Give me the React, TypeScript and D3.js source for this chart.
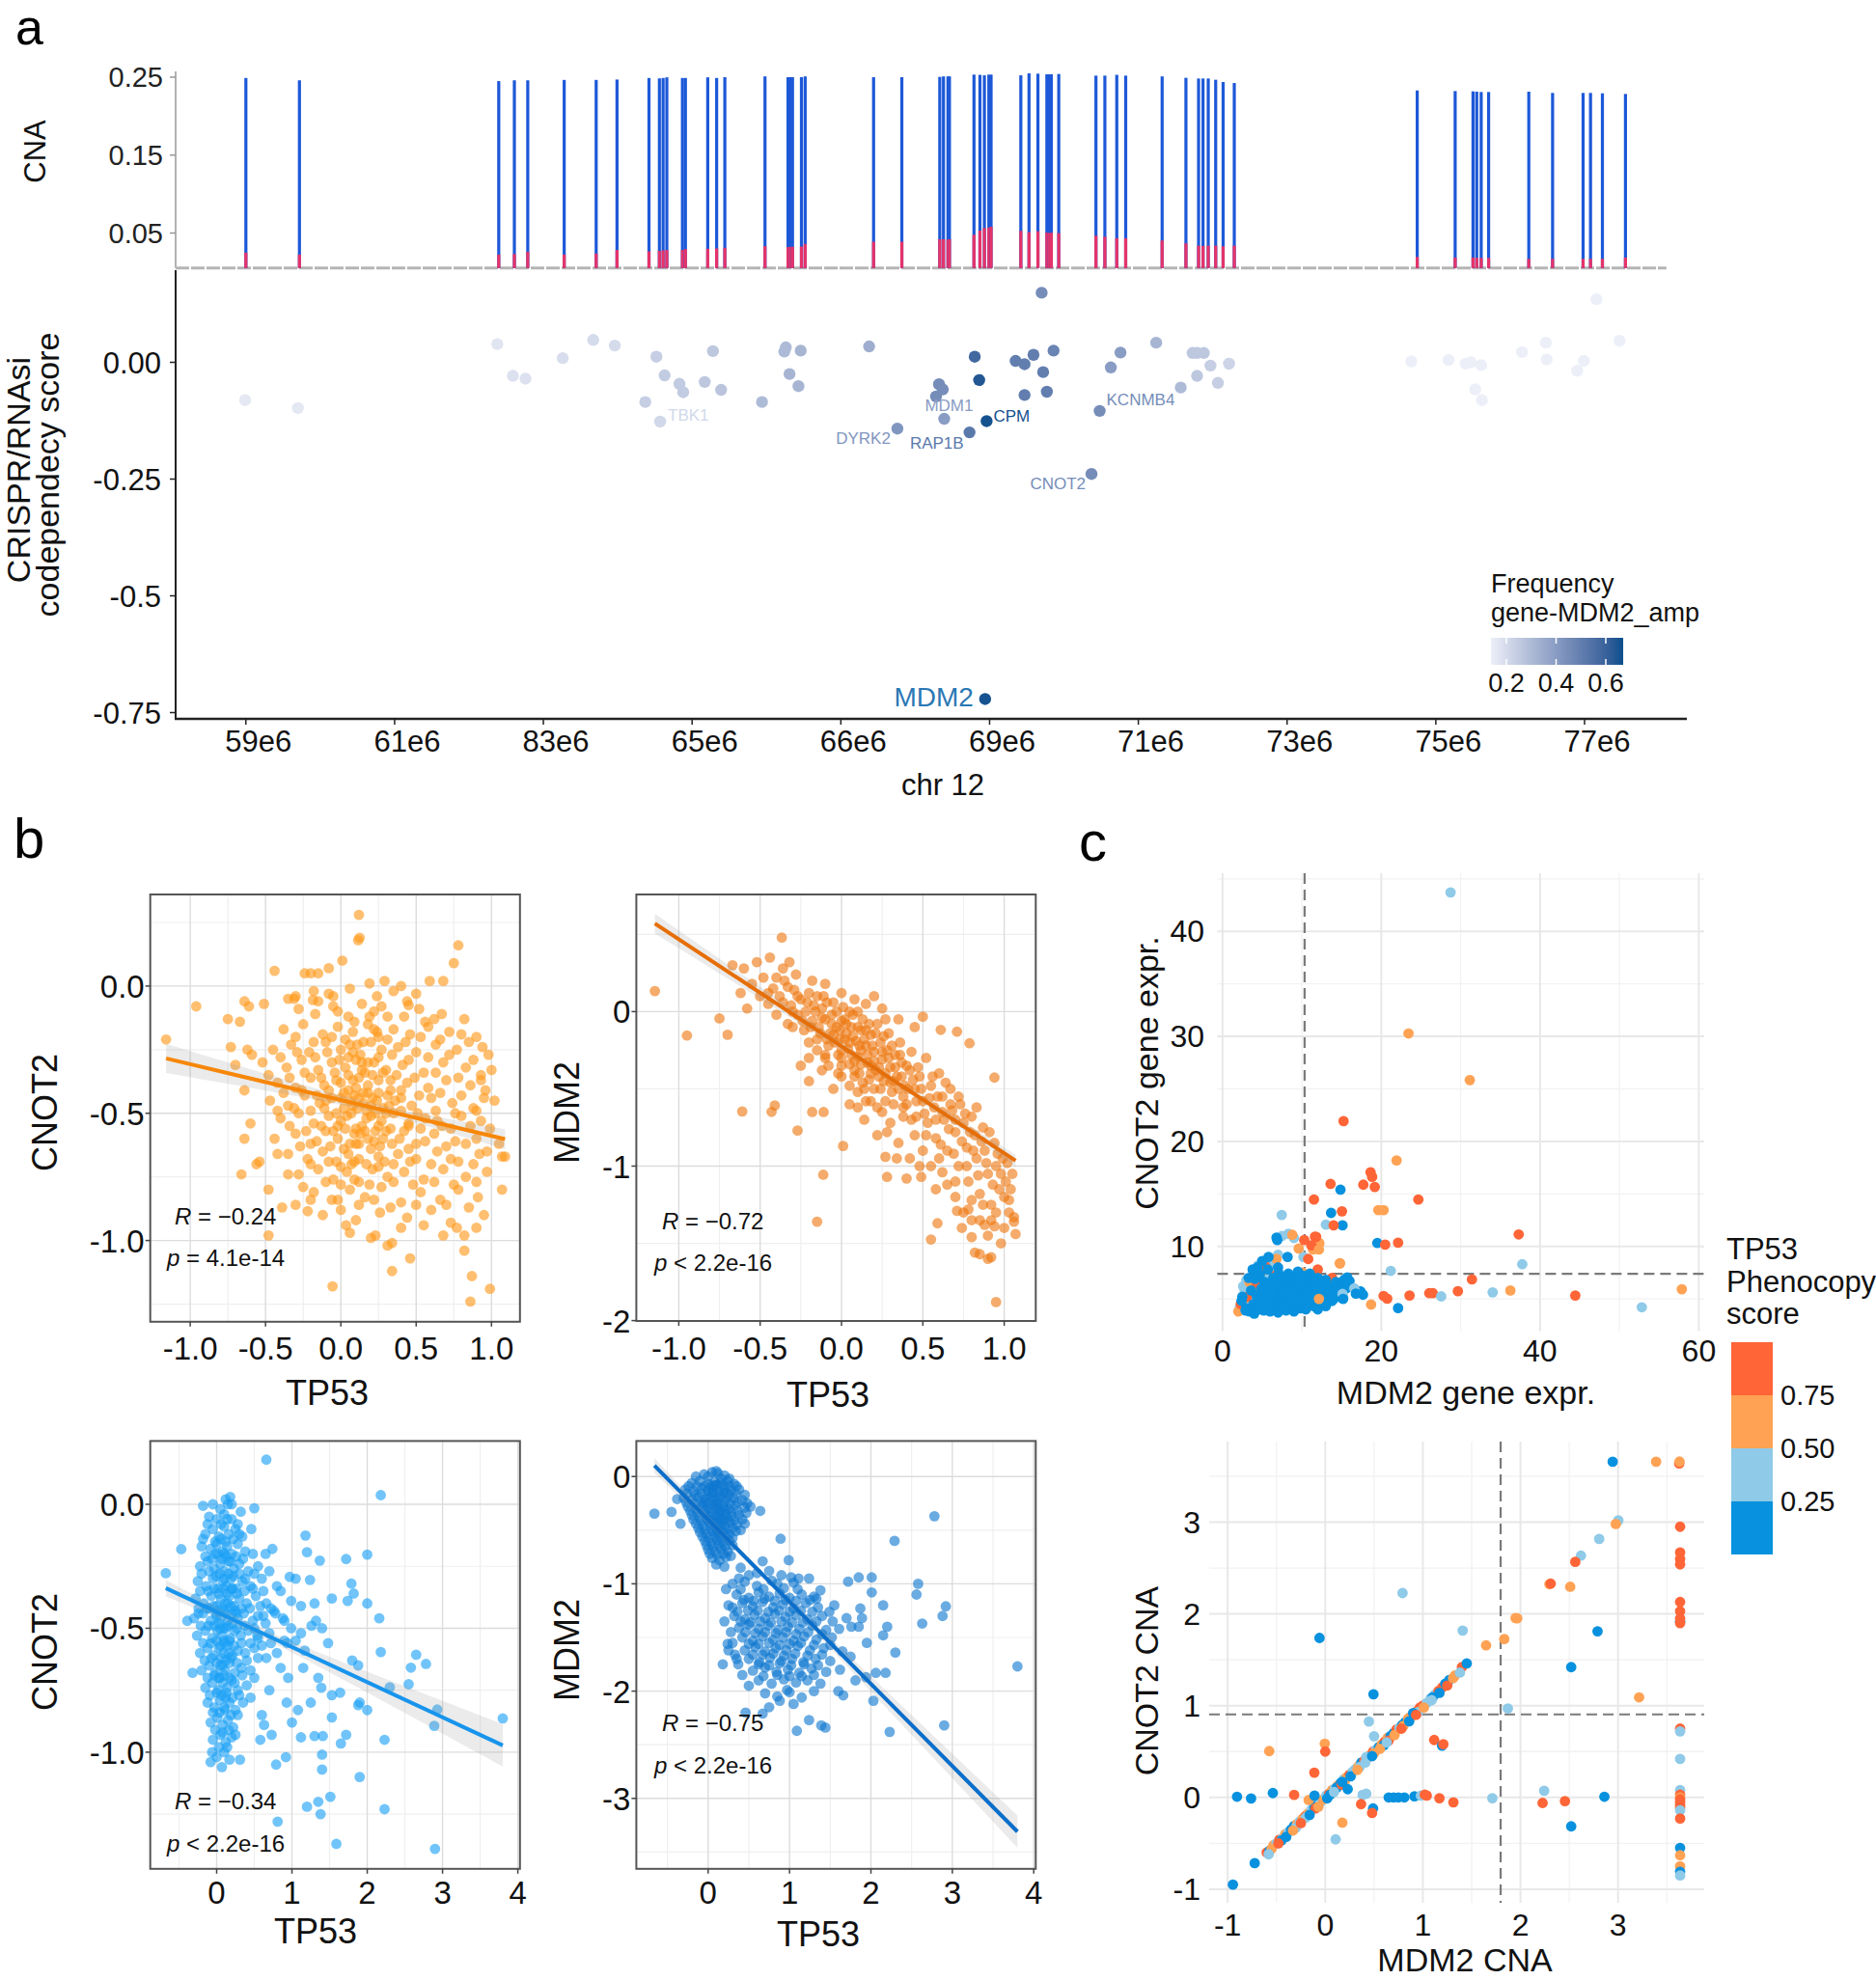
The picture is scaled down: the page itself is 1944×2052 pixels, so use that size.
import React from 'react';
import * as d3 from 'd3';

const FONT = '"Liberation Sans", Arial, Helvetica, sans-serif';

// ================= PANEL a DATA =================
const chrTickMb = [59, 61, 63, 65, 67, 69, 71, 73, 75, 77];
const chrTickLabels = ['59e6', '61e6', '83e6', '65e6', '66e6', '69e6', '71e6', '73e6', '75e6', '77e6'];
const cnaTicks = [0.05, 0.15, 0.25];
const cnaTickLabels = ['0.05', '0.15', '0.25'];
const cnaBaseline = 0.005;
const cnaBarPos = [59.00, 59.72, 62.40, 62.61, 62.79, 63.28, 63.71, 63.99, 64.42, 64.56, 64.61, 64.66, 64.87, 64.91, 65.21, 65.33, 65.44, 65.98, 66.29, 66.32, 66.35, 66.47, 66.52, 67.44, 67.82, 68.33, 68.38, 68.44, 68.46, 68.79, 68.87, 68.93, 68.99, 69.02, 69.42, 69.53, 69.65, 69.77, 69.80, 69.83, 69.93, 70.43, 70.55, 70.71, 70.83, 71.32, 71.64, 71.81, 71.87, 71.94, 72.04, 72.14, 72.29, 74.75, 75.26, 75.50, 75.55, 75.61, 75.71, 76.25, 76.57, 76.98, 77.08, 77.24, 77.55];
const cnaBarTotal = [0.249, 0.246, 0.245, 0.246, 0.246, 0.2465, 0.2465, 0.247, 0.249, 0.2485, 0.249, 0.2498, 0.249, 0.249, 0.2498, 0.249, 0.250, 0.251, 0.250, 0.250, 0.250, 0.250, 0.251, 0.250, 0.250, 0.2504, 0.251, 0.251, 0.251, 0.2533, 0.253, 0.2524, 0.2533, 0.2533, 0.2524, 0.2549, 0.2545, 0.2537, 0.2537, 0.2537, 0.2541, 0.252, 0.252, 0.253, 0.252, 0.251, 0.2492, 0.2483, 0.2483, 0.2483, 0.2467, 0.2438, 0.2425, 0.233, 0.2322, 0.2318, 0.2314, 0.231, 0.231, 0.2314, 0.2298, 0.2298, 0.2298, 0.2293, 0.2285];
const cnaBarAmp = [0.0248, 0.0223, 0.0223, 0.0231, 0.026, 0.0223, 0.0236, 0.0282, 0.0265, 0.027, 0.0277, 0.0282, 0.0282, 0.0294, 0.0298, 0.0302, 0.031, 0.0331, 0.0319, 0.0323, 0.0323, 0.0327, 0.036, 0.0389, 0.0389, 0.042, 0.042, 0.0416, 0.042, 0.0478, 0.0531, 0.0565, 0.0569, 0.0581, 0.0527, 0.0511, 0.0523, 0.0507, 0.0503, 0.0503, 0.0499, 0.0466, 0.0453, 0.0433, 0.0433, 0.0404, 0.0367, 0.0338, 0.0334, 0.0338, 0.0338, 0.033, 0.0338, 0.0193, 0.0185, 0.0185, 0.0181, 0.0181, 0.0181, 0.0168, 0.0168, 0.0168, 0.0168, 0.0168, 0.0185];

const codepTicks = [0, -0.25, -0.5, -0.75];
const codepTickLabels = ['0.00', '-0.25', '-0.5', '-0.75'];
const codepPos = [58.99, 59.70, 62.38, 62.59, 62.76, 63.26, 63.67, 63.96, 64.37, 64.52, 64.57, 64.63, 64.83, 64.88, 65.17, 65.28, 65.39, 65.94, 66.24, 66.26, 66.31, 66.43, 66.46, 67.38, 67.76, 68.28, 68.32, 68.37, 68.39, 68.73, 68.80, 68.86, 68.96, 68.94, 69.35, 69.47, 69.47, 69.59, 69.70, 69.72, 69.77, 69.86, 70.37, 70.48, 70.63, 70.76, 71.24, 71.57, 71.73, 71.79, 71.88, 71.79, 71.97, 72.07, 72.22, 74.67, 75.17, 75.40, 75.47, 75.61, 75.53, 75.62, 76.16, 76.48, 76.49, 76.90, 76.99, 77.16, 77.47];
const codepScore = [-0.081, -0.098, 0.039, -0.029, -0.035, 0.009, 0.048, 0.036, -0.085, 0.012, -0.127, -0.028, -0.046, -0.064, -0.042, 0.024, -0.059, -0.085, 0.023, 0.032, -0.025, -0.051, 0.025, 0.034, -0.142, -0.073, -0.047, -0.058, -0.121, -0.150, 0.012, -0.038, -0.126, -0.721, 0.003, -0.004, -0.070, 0.016, 0.149, -0.021, -0.063, 0.025, -0.239, -0.104, -0.011, 0.021, 0.042, -0.054, 0.020, 0.020, 0.020, -0.029, -0.007, -0.044, -0.003, 0.002, 0.005, -0.003, 0.000, -0.006, -0.058, -0.081, 0.022, 0.042, 0.006, -0.018, 0.003, 0.135, 0.046];
const codepFreq = [0.16, 0.16, 0.17, 0.18, 0.18, 0.19, 0.2, 0.2, 0.24, 0.24, 0.21, 0.25, 0.25, 0.25, 0.26, 0.26, 0.27, 0.3, 0.3, 0.3, 0.32, 0.32, 0.32, 0.34, 0.42, 0.45, 0.45, 0.45, 0.4, 0.52, 0.58, 0.64, 0.66, 0.66, 0.5, 0.5, 0.5, 0.5, 0.45, 0.5, 0.5, 0.48, 0.45, 0.45, 0.4, 0.4, 0.32, 0.3, 0.26, 0.26, 0.26, 0.26, 0.24, 0.24, 0.22, 0.13, 0.13, 0.13, 0.13, 0.13, 0.13, 0.13, 0.13, 0.13, 0.13, 0.13, 0.13, 0.13, 0.13];
const codepLabelGene = ['TBK1', 'DYRK2', 'MDM1', 'RAP1B', 'CPM', 'MDM2', 'CNOT2', 'KCNMB4'];
const codepLabelIdx = [10, 24, 28, 29, 32, 33, 42, 43];
const freqLegendTicks = [0.2, 0.4, 0.6];
const freqDomain = [0.138, 0.67];

// ================= PANEL b DATA =================
const bCellLines = 1000;
const b1Pts = [[0.12,0.28],[0.115,0.18],[0.125,0.19],[0.78,0.16],[0.75,0.09],[0.01,0.10],[-0.08,0.07],[-0.44,0.06],[-0.24,0.05],[-0.2,0.05],[-0.15,0.05],[0.59,0.02],[0.68,0.02],[0.29,0.02],[0.19,0.01],[-0.96,-0.08],[-1.16,-0.21],[-0.75,-0.13],[-0.67,-0.14],[-0.64,-0.06],[-0.61,-0.08],[-0.51,-0.07],[-0.73,-0.24],[-0.70,-0.31],[-0.59,-0.27],[-0.64,-0.41],[-0.60,-0.54],[-0.64,-0.60],[-0.66,-0.74],[-0.56,-0.70],[-0.48,-0.80],[-0.39,-0.87],[-0.48,-0.98],[-0.055,-1.18],[0.23,-0.98],[0.34,-1.01],[0.34,-1.12],[0.46,-1.07],[0.82,-1.04],[0.82,-0.98],[0.87,-1.14],[0.86,-1.24],[0.99,-1.19],[1.07,-0.80],[1.07,-0.67],[1.09,-0.67],[0.98,-0.27],[0.82,-0.13],[0.85,-0.22],[0.62,-0.13],[0.44,-0.06],[0.40,0.0],[-0.30,-0.04],[-0.31,-0.05],[-0.185,-0.055],[-0.08,-0.03],[-0.22,-0.885],[-0.2,-0.84],[0.035,-0.94],[0.2,-0.99],[0.93,-0.37],[0.45,-0.075],[0.77,-0.95],[-0.62,-0.25],[0.31,-1.02],[-0.54,-0.69],
[-0.28,-0.09],[-0.17,-0.11],[-0.05,-0.08],[0.05,-0.12],[0.14,-0.07],[0.22,-0.1],[0.31,-0.12],[0.52,-0.09],[0.67,-0.11],
[-0.38,-0.17],[-0.25,-0.15],[-0.12,-0.19],[-0.02,-0.16],[0.08,-0.18],[0.18,-0.15],[0.25,-0.2],[0.35,-0.17],[0.46,-0.19],[0.58,-0.16],[0.72,-0.18],[0.9,-0.2],
[-0.45,-0.25],[-0.33,-0.23],[-0.21,-0.26],[-0.1,-0.22],[0.0,-0.25],[0.06,-0.23],[0.13,-0.27],[0.2,-0.22],[0.27,-0.25],[0.38,-0.24],[0.5,-0.26],[0.63,-0.23],[0.77,-0.25],[0.94,-0.24],
[-0.52,-0.3],[-0.36,-0.32],[-0.26,-0.29],[-0.15,-0.33],[-0.06,-0.3],[0.03,-0.32],[0.1,-0.29],[0.16,-0.34],[0.22,-0.3],[0.3,-0.33],[0.41,-0.31],[0.55,-0.34],[0.68,-0.3],[0.83,-0.32],[1.0,-0.33],
[-0.42,-0.38],[-0.3,-0.4],[-0.2,-0.36],[-0.11,-0.39],[-0.03,-0.37],[0.05,-0.41],[0.12,-0.36],[0.18,-0.39],[0.25,-0.37],[0.33,-0.41],[0.44,-0.38],[0.58,-0.4],[0.7,-0.37],[0.86,-0.39],[0.96,-0.41],
[-0.47,-0.45],[-0.35,-0.47],[-0.24,-0.43],[-0.14,-0.46],[-0.06,-0.44],[0.02,-0.48],[0.09,-0.43],[0.15,-0.46],[0.21,-0.44],[0.28,-0.48],[0.36,-0.45],[0.47,-0.47],[0.6,-0.44],[0.74,-0.46],[0.88,-0.48],[1.02,-0.45],
[-0.4,-0.52],[-0.28,-0.5],[-0.18,-0.54],[-0.08,-0.51],[0.0,-0.53],[0.07,-0.5],[0.14,-0.55],[0.2,-0.51],[0.27,-0.53],[0.35,-0.5],[0.45,-0.54],[0.56,-0.52],[0.67,-0.55],[0.8,-0.51],[0.93,-0.53],
[-0.44,-0.6],[-0.3,-0.58],[-0.2,-0.62],[-0.1,-0.57],[-0.02,-0.6],[0.06,-0.62],[0.13,-0.58],[0.22,-0.61],[0.3,-0.57],[0.39,-0.6],[0.5,-0.62],[0.62,-0.58],[0.76,-0.61],[0.9,-0.6],[1.05,-0.62],
[-0.35,-0.66],[-0.22,-0.68],[-0.12,-0.65],[-0.03,-0.69],[0.05,-0.66],[0.12,-0.68],[0.2,-0.64],[0.29,-0.69],[0.38,-0.66],[0.5,-0.68],[0.64,-0.65],[0.78,-0.69],[0.92,-0.66],
[-0.28,-0.74],[-0.15,-0.72],[-0.05,-0.76],[0.04,-0.73],[0.12,-0.77],[0.21,-0.72],[0.31,-0.75],[0.42,-0.73],[0.55,-0.76],[0.68,-0.72],[0.83,-0.75],[0.97,-0.73],
[-0.18,-0.81],[-0.06,-0.84],[0.06,-0.8],[0.16,-0.83],[0.27,-0.79],[0.4,-0.85],[0.53,-0.81],[0.66,-0.84],[0.78,-0.8],[0.91,-0.83],
[-0.12,-0.9],[0.0,-0.88],[0.1,-0.92],[0.26,-0.89],[0.44,-0.91],[0.6,-0.88],[0.73,-0.93],[0.95,-0.9],
[-0.18,-0.02],[-0.05,-0.04],[0.06,-0.01],[0.24,-0.04],[0.35,-0.02],[-0.35,-0.05],[0.5,-0.03],
[0.05,-0.35],[0.1,-0.4],[0.15,-0.42],[0.2,-0.47],[0.08,-0.47],[0.17,-0.52],[0.23,-0.57],[0.1,-0.56],[0.02,-0.42],[0.25,-0.42],[0.3,-0.5],[0.12,-0.62],[0.18,-0.3],[0.05,-0.28],[-0.1,-0.45],[0.33,-0.37],[0.24,-0.18],[0.15,-0.22],[0.19,-0.12],[0.28,-0.6],[-0.02,-0.55],[0.07,-0.7],[0.25,-0.67],[0.4,-0.44],[0.45,-0.55],
[-0.15,-0.06],[-0.02,-0.1],[0.09,-0.14],[0.27,-0.08],[0.42,-0.12],[0.56,-0.14],
[-0.3,-0.2],[-0.18,-0.22],[-0.06,-0.2],[0.03,-0.21],[0.11,-0.23],[0.22,-0.17],[0.31,-0.21],[0.43,-0.22],[0.53,-0.2],[0.66,-0.21],[0.8,-0.19],
[-0.4,-0.28],[-0.29,-0.26],[-0.17,-0.28],[-0.09,-0.26],[-0.01,-0.29],[0.08,-0.26],[0.14,-0.3],[0.25,-0.28],[0.34,-0.27],[0.45,-0.29],[0.58,-0.28],[0.72,-0.27],[0.88,-0.29],
[-0.48,-0.35],[-0.34,-0.36],[-0.24,-0.34],[-0.13,-0.36],[-0.04,-0.34],[0.0,-0.38],[0.08,-0.37],[0.14,-0.33],[0.21,-0.35],[0.28,-0.34],[0.37,-0.35],[0.49,-0.36],[0.63,-0.34],[0.78,-0.36],[0.93,-0.35],
[-0.38,-0.42],[-0.26,-0.41],[-0.16,-0.43],[-0.08,-0.41],[0.0,-0.44],[0.06,-0.45],[0.12,-0.44],[0.18,-0.42],[0.24,-0.45],[0.31,-0.43],[0.4,-0.41],[0.52,-0.43],[0.66,-0.42],[0.8,-0.43],[0.95,-0.44],
[-0.42,-0.49],[-0.31,-0.48],[-0.2,-0.49],[-0.11,-0.48],[-0.03,-0.5],[0.04,-0.51],[0.11,-0.48],[0.17,-0.49],[0.23,-0.5],[0.32,-0.47],[0.4,-0.49],[0.51,-0.5],[0.63,-0.49],[0.76,-0.5],[0.9,-0.49],
[-0.34,-0.55],[-0.23,-0.57],[-0.13,-0.55],[-0.05,-0.57],[0.03,-0.56],[0.09,-0.58],[0.16,-0.57],[0.25,-0.55],[0.33,-0.56],[0.42,-0.57],[0.53,-0.56],[0.64,-0.53],[0.73,-0.56],[0.86,-0.55],[0.99,-0.56],
[-0.27,-0.63],[-0.16,-0.61],[-0.07,-0.63],[0.02,-0.64],[0.1,-0.62],[0.18,-0.6],[0.26,-0.63],[0.34,-0.62],[0.45,-0.64],[0.56,-0.61],[0.7,-0.63],[0.83,-0.62],[0.97,-0.65],
[-0.2,-0.7],[-0.08,-0.69],[0.0,-0.71],[0.09,-0.69],[0.17,-0.7],[0.25,-0.71],[0.35,-0.7],[0.46,-0.69],[0.6,-0.7],[0.73,-0.68],[0.88,-0.7],
[-0.1,-0.77],[0.0,-0.78],[0.09,-0.76],[0.19,-0.78],[0.35,-0.77],[0.48,-0.78],[0.62,-0.77],[0.75,-0.78],[0.9,-0.77],
[-0.02,-0.84],[0.12,-0.86],[0.22,-0.84],[0.33,-0.87],[0.5,-0.86],[0.7,-0.86],[0.85,-0.87],
[0.06,-0.97],[0.4,-0.95],[0.55,-0.94],[0.68,-0.98],[0.9,-0.95],[-0.3,-0.86],[-0.25,-0.79],[-0.35,-0.74],[-0.42,-0.66]];
const b1Fit = [-0.448, -0.141];
const b1Stats = ['−0.24', '= 4.1e-14'];

const b2Pts = [[-1.147,0.133],[-0.95,-0.155],[-0.367,0.479],[-0.32,0.32],[-0.67,0.30],[-0.75,-0.044],[-0.7,-0.15],[-0.61,-0.646],[-0.43,-0.649],[-0.41,-0.607],[-0.112,-1.056],[-0.15,-1.36],[-0.27,-0.77],[-0.18,-0.65],[-0.11,-0.65],[0.01,-0.87],[0.27,-0.94],[0.28,-1.07],[0.4,-1.08],[0.49,-1.07],[0.59,-1.37],[0.55,-1.475],[0.71,-1.29],[0.78,-1.28],[0.82,-1.56],[0.85,-1.57],[0.9,-1.6],[0.95,-1.88],[0.94,-0.427],[0.787,-0.205],[0.61,-0.118],[0.71,-0.13],[0.5,-0.033],[1.06,-1.33],[1.06,-1.36],[1.07,-1.44],[0.88,-1.38],[0.94,-1.39],[0.92,-1.59],[0.8,-1.46],
[-0.55,0.18],[-0.5,0.1],[-0.48,0.22],[-0.45,0.05],[-0.42,0.15],[-0.4,-0.02],[-0.38,0.1],[-0.35,0.2],[-0.33,-0.08],[-0.31,0.04],[-0.29,0.14],[-0.27,-0.02],[-0.25,0.08],[-0.23,-0.12],[-0.22,0.0],[-0.2,0.12],[-0.18,-0.06],[-0.17,0.04],[-0.15,-0.18],[-0.14,-0.1],[-0.12,0.02],[-0.11,0.1],[-0.1,-0.05],[-0.08,-0.22],[-0.07,-0.14],[-0.06,-0.02],[-0.05,0.06],[-0.03,-0.1],[-0.02,-0.28],[-0.01,-0.18],[0.0,-0.06],[0.01,0.03],[0.03,-0.14],[0.04,-0.24],[0.05,-0.34],[0.06,-0.1],[0.07,-0.02],[0.09,-0.19],[0.1,-0.29],[0.11,-0.4],[0.12,-0.12],[0.13,-0.05],[0.15,-0.22],[0.16,-0.33],[0.17,-0.44],[0.18,-0.15],[0.2,-0.26],[0.21,-0.38],[0.22,-0.08],[0.24,-0.2],[0.25,-0.31],[0.26,-0.45],[0.28,-0.25],[0.29,-0.14],[0.3,-0.36],[0.31,-0.52],[0.33,-0.28],[0.34,-0.42],[0.36,-0.2],[0.37,-0.33],[0.39,-0.48],[0.4,-0.6],[0.42,-0.38],[0.43,-0.26],[0.45,-0.5],[0.46,-0.68],[0.48,-0.42],[0.5,-0.58],[0.52,-0.3],[0.53,-0.72],[0.55,-0.48],[0.57,-0.62],[0.58,-0.82],[0.6,-0.4],[0.62,-0.55],[0.63,-0.7],[0.65,-0.9],[0.67,-0.5],[0.68,-0.64],[0.7,-0.78],[0.72,-1.0],[0.73,-0.6],[0.75,-0.72],[0.77,-0.88],[0.78,-1.1],[0.8,-0.68],[0.82,-0.8],[0.83,-0.95],[0.85,-1.18],[0.87,-0.75],[0.88,-0.9],[0.9,-1.05],[0.92,-1.25],[0.94,-0.85],[0.95,-1.0],[0.97,-1.15],[0.99,-0.95],[1.01,-1.1],[1.03,-1.22],[1.05,-1.05],
[-0.25,-0.35],[-0.2,-0.45],[-0.12,-0.38],[-0.05,-0.5],[0.0,-0.42],[0.05,-0.6],[0.1,-0.52],[0.14,-0.7],[0.18,-0.58],[0.22,-0.8],[0.25,-0.65],[0.3,-0.72],[0.35,-0.85],[0.38,-0.68],[0.42,-0.95],[0.45,-0.8],[0.5,-0.9],[0.55,-1.0],[0.6,-0.95],[0.65,-1.12],[0.7,-1.2],[0.75,-1.3],[0.8,-1.22],[0.85,-1.35],[0.9,-1.45],[0.95,-1.3],[1.0,-1.4],
[-0.6,0.28],[-0.52,0.32],[-0.44,0.35],[-0.36,0.28],[-0.28,0.24],[-0.18,0.2],[-0.1,0.18],[0.0,0.12],[0.08,0.08],[0.15,0.05],[0.25,0.02],[0.35,-0.05],[0.2,0.1],[0.45,-0.1],[-0.62,0.12],[-0.58,0.02],
[-0.3,-0.1],[-0.2,-0.2],[-0.1,-0.28],[0.0,-0.35],[0.08,-0.42],[0.14,-0.5],[0.2,-0.5],[0.27,-0.58],[-0.15,0.1],[-0.05,-0.15],[0.05,-0.2],[0.12,-0.25],[0.18,-0.35],[0.23,-0.42],[0.08,-0.32],[-0.08,-0.35],[0.0,-0.25],[0.15,-0.12],[0.02,-0.05],[-0.2,-0.3],[0.32,-0.45],[0.38,-0.55],[0.27,-0.05],[0.1,0.0],
[-0.45,0.12],[-0.4,0.22],[-0.36,0.06],[-0.33,0.16],[-0.3,0.0],[-0.27,0.1],[-0.24,-0.06],[-0.21,0.06],[-0.19,-0.1],[-0.16,0.0],[-0.13,-0.14],[-0.12,-0.04],[-0.09,0.06],[-0.09,-0.18],[-0.06,-0.08],[-0.04,-0.2],[-0.03,0.0],[-0.01,-0.12],[0.0,-0.3],[0.02,-0.18],[0.03,-0.08],[0.05,0.0],[0.06,-0.28],[0.07,-0.16],[0.08,-0.38],[0.1,-0.1],[0.11,-0.22],[0.12,-0.34],[0.13,-0.46],[0.14,-0.18],[0.16,-0.28],[0.17,-0.08],[0.18,-0.4],[0.19,-0.22],[0.2,-0.32],[0.21,-0.14],[0.23,-0.36],[0.24,-0.5],[0.25,-0.26],[0.26,-0.16],[0.27,-0.4],[0.29,-0.3],[0.3,-0.46],[0.31,-0.22],[0.32,-0.6],[0.33,-0.36],[0.35,-0.5],[0.36,-0.28],[0.37,-0.42],[0.38,-0.62],[0.4,-0.35],[0.41,-0.5],[0.43,-0.7],[0.44,-0.44],[0.46,-0.58],[0.47,-0.36],[0.49,-0.5],[0.51,-0.66],[0.52,-0.8],[0.54,-0.56],[0.56,-0.42],[0.58,-0.7],[0.59,-0.55],[0.61,-0.86],[0.62,-0.65],[0.64,-0.46],[0.66,-0.76],[0.67,-0.6],[0.69,-0.92],[0.7,-0.7],[0.72,-0.55],[0.74,-0.84],[0.76,-0.66],[0.77,-1.0],[0.79,-0.78],[0.81,-0.9],[0.83,-0.62],[0.84,-1.06],[0.86,-0.84],[0.89,-0.98],[0.91,-0.78],[0.93,-1.12],[0.96,-0.92],[0.98,-1.05],[1.0,-1.2],[1.02,-0.98],[1.04,-1.15],[-0.02,-0.4],[-0.1,-0.3],[0.05,-0.48],[0.15,-0.58],[-0.15,-0.25],[0.22,-0.62],[0.1,-0.62],[0.28,-0.78],[0.34,-0.95],[0.48,-1.0],[0.62,-1.04],[0.58,-1.15],[0.7,-1.1],[0.74,-1.4],[0.87,-1.25],[0.98,-1.5],[1.03,-1.3],[0.92,-1.35],[0.8,-1.35]];
const b2Fit = [-0.224, -0.692];
const b2Stats = ['−0.72', '< 2.2e-16'];

const b3Pts = [[0.66,0.18],[2.18,0.037],[-0.675,-0.278],[-0.47,-0.181],[1.18,-0.126],[1.2,-0.193],[1.37,-0.227],[1.72,-0.221],[2.0,-0.203],[0.74,-0.18],[0.46,-0.1],[0.5,-0.016],[1.24,-0.305],[0.97,-0.293],[1.79,-0.32],[1.82,-0.36],[1.74,-0.39],[2.0,-0.4],[2.16,-0.46],[2.18,-0.596],[2.65,-0.607],[2.78,-0.644],[2.58,-0.659],[2.55,-0.726],[2.3,-0.738],[2.89,-0.894],[2.93,-0.828],[3.8,-0.864],[2.23,-0.95],[2.0,-0.83],[1.9,-0.8],[1.88,-0.81],[1.72,-0.93],[1.65,-0.965],[1.3,-0.935],[1.41,-0.935],[1.12,-0.94],[1.53,-0.86],[1.4,-1.01],[1.4,-1.07],[1.9,-1.1],[1.51,-1.18],[1.2,-1.22],[1.35,-1.2],[1.38,-1.25],[2.23,-1.23],[0.81,-1.28],[1.59,-1.37],[2.9,-1.39],[0.79,-1.05],[0.92,-1.02],[0.58,-0.95],[0.73,-0.93],[0.63,-0.89],[0.31,-1.03],[0.07,-1.06],[-0.06,-1.0],[-0.32,-0.68],[-0.39,-0.47],[-0.24,-0.44],[-0.18,-0.006],[0.99,-0.5],[1.32,-0.47],[1.4,-0.5],[0.99,-0.39],[1.12,-0.41],[1.3,-0.4],[1.53,-0.38],[0.94,-0.56],[1.17,-0.59],[0.66,-0.62],[0.85,-0.66],[1.35,-0.7],[1.64,-0.76],[0.93,-0.8],[1.08,-0.83],[1.39,-0.74],[1.53,-0.77],[1.8,-0.63],[1.88,-0.65],[1.48,-0.56],[1.26,-0.49],[1.12,-0.52],[0.76,-0.43],[0.88,-0.46],[0.54,-0.53],[0.72,-0.56],
[-0.05,0.0],[0.12,0.02],[0.18,0.03],[0.2,0.0],
[-0.1,-0.05],[0.0,-0.06],[0.1,-0.04],[0.2,-0.06],[0.32,-0.03],
[-0.15,-0.12],[-0.05,-0.1],[0.03,-0.13],[0.1,-0.09],[0.16,-0.12],[0.25,-0.1],[0.34,-0.13],
[-0.2,-0.17],[-0.08,-0.18],[0.0,-0.16],[0.08,-0.19],[0.14,-0.17],[0.2,-0.2],[0.28,-0.16],[0.38,-0.19],
[-0.22,-0.25],[-0.12,-0.23],[-0.03,-0.26],[0.05,-0.24],[0.1,-0.27],[0.16,-0.23],[0.23,-0.26],[0.3,-0.24],[0.42,-0.27],[0.55,-0.25],
[-0.25,-0.31],[-0.14,-0.33],[-0.05,-0.3],[0.02,-0.34],[0.08,-0.31],[0.13,-0.33],[0.19,-0.3],[0.26,-0.34],[0.34,-0.31],[0.45,-0.33],[0.6,-0.3],
[-0.28,-0.38],[-0.17,-0.4],[-0.07,-0.37],[0.0,-0.41],[0.06,-0.38],[0.11,-0.4],[0.17,-0.37],[0.23,-0.41],[0.3,-0.38],[0.4,-0.4],[0.52,-0.37],[0.66,-0.4],
[-0.3,-0.46],[-0.18,-0.44],[-0.08,-0.47],[-0.01,-0.44],[0.05,-0.46],[0.1,-0.43],[0.15,-0.47],[0.21,-0.44],[0.28,-0.46],[0.36,-0.44],[0.48,-0.47],[0.62,-0.45],[0.78,-0.44],
[-0.26,-0.53],[-0.15,-0.51],[-0.06,-0.54],[0.01,-0.51],[0.07,-0.53],[0.12,-0.5],[0.18,-0.54],[0.24,-0.51],[0.32,-0.53],[0.42,-0.51],[0.55,-0.54],[0.7,-0.52],
[-0.22,-0.6],[-0.12,-0.58],[-0.04,-0.61],[0.03,-0.58],[0.09,-0.6],[0.15,-0.57],[0.21,-0.61],[0.28,-0.59],[0.38,-0.6],[0.5,-0.58],
[-0.2,-0.67],[-0.1,-0.65],[-0.02,-0.68],[0.05,-0.65],[0.11,-0.67],[0.17,-0.64],[0.24,-0.68],[0.33,-0.66],[0.45,-0.67],
[-0.15,-0.74],[-0.06,-0.72],[0.02,-0.75],[0.08,-0.72],[0.14,-0.74],[0.2,-0.71],[0.28,-0.75],[0.4,-0.73],
[-0.12,-0.8],[-0.03,-0.82],[0.04,-0.79],[0.1,-0.82],[0.17,-0.8],[0.25,-0.83],[0.35,-0.8],
[-0.08,-0.88],[0.01,-0.86],[0.08,-0.89],[0.15,-0.87],[0.22,-0.9],
[-0.05,-0.95],[0.05,-0.93],[0.12,-0.96],[0.2,-0.94],
[0.0,-1.02],[0.1,-1.0],[0.17,-1.03],
[0.15,0.0],[0.05,-0.02],[0.1,-0.2],[0.05,-0.5],[0.1,-0.55],[0.0,-0.45],[0.15,-0.4],[0.08,-0.65],[0.2,-0.34],[0.12,-0.78],[-0.02,-0.2],[0.03,-0.7],[0.16,-0.6],[0.26,-0.44],[-0.1,-0.42],
[-0.12,-0.08],[0.06,-0.08],[0.14,-0.06],[0.28,-0.08],
[-0.18,-0.14],[-0.02,-0.15],[0.06,-0.14],[0.12,-0.15],[0.22,-0.14],[0.3,-0.12],
[-0.15,-0.21],[-0.06,-0.22],[0.02,-0.2],[0.07,-0.22],[0.13,-0.21],[0.18,-0.23],[0.26,-0.21],[0.35,-0.22],[0.48,-0.2],
[-0.2,-0.28],[-0.1,-0.27],[-0.01,-0.29],[0.04,-0.28],[0.1,-0.3],[0.16,-0.28],[0.22,-0.29],[0.3,-0.28],[0.38,-0.3],[0.5,-0.28],[0.7,-0.27],
[-0.22,-0.35],[-0.11,-0.35],[-0.03,-0.34],[0.03,-0.36],[0.09,-0.34],[0.14,-0.36],[0.21,-0.34],[0.27,-0.36],[0.37,-0.35],[0.48,-0.34],[0.62,-0.35],[0.85,-0.35],
[-0.24,-0.42],[-0.13,-0.42],[-0.04,-0.41],[0.02,-0.43],[0.08,-0.42],[0.13,-0.44],[0.19,-0.41],[0.25,-0.43],[0.33,-0.42],[0.44,-0.42],[0.58,-0.41],[0.72,-0.42],
[-0.21,-0.49],[-0.11,-0.49],[-0.03,-0.49],[0.03,-0.48],[0.09,-0.5],[0.15,-0.49],[0.21,-0.48],[0.27,-0.5],[0.37,-0.49],[0.5,-0.5],[0.65,-0.48],[0.9,-0.47],
[-0.18,-0.56],[-0.08,-0.56],[0.0,-0.55],[0.05,-0.57],[0.11,-0.56],[0.17,-0.55],[0.23,-0.57],[0.33,-0.56],[0.45,-0.56],[0.6,-0.57],
[-0.16,-0.63],[-0.07,-0.62],[0.0,-0.64],[0.06,-0.62],[0.12,-0.63],[0.19,-0.62],[0.27,-0.64],[0.4,-0.63],[0.55,-0.62],
[-0.12,-0.7],[-0.03,-0.69],[0.04,-0.7],[0.1,-0.69],[0.17,-0.7],[0.24,-0.72],[0.34,-0.69],[0.5,-0.7],
[-0.09,-0.77],[0.0,-0.76],[0.07,-0.77],[0.13,-0.76],[0.21,-0.78],[0.3,-0.77],[0.45,-0.78],
[-0.05,-0.84],[0.04,-0.84],[0.11,-0.83],[0.19,-0.85],[0.28,-0.85],
[-0.02,-0.91],[0.08,-0.92],[0.16,-0.91],[0.25,-0.93],
[0.03,-0.98],[0.14,-0.98],[-0.08,-1.04],
[0.8,-0.6],[0.95,-0.7],[1.05,-0.55],[1.15,-0.66],[0.7,-0.75],[0.6,-0.85],[1.0,-0.88],[1.25,-0.8],[0.55,-0.45],[0.8,-0.33],[1.05,-0.3],[0.65,-0.2],[0.9,-0.55]];
const b3Fit = [-0.434, -0.1417];
const b3Stats = ['−0.34', '< 2.2e-16'];

const b4Pts = [[-0.66,-0.345],[-0.38,-0.21],[-0.45,-0.33],[-0.34,-0.44],[2.78,-0.37],[2.29,-0.6],[0.89,-0.58],[0.99,-0.78],[0.67,-0.79],[0.52,-0.28],[0.64,-0.32],[1.72,-0.98],[1.85,-0.94],[2.01,-0.94],[2.58,-1.0],[2.56,-1.1],[2.92,-1.21],[2.88,-1.3],[2.63,-1.37],[3.8,-1.77],[2.9,-2.32],[2.23,-2.38],[2.03,-2.09],[2.18,-1.83],[2.3,-1.64],[2.15,-1.48],[2.2,-1.4],[2.15,-1.2],[2.01,-1.08],[1.87,-1.23],[1.89,-1.32],[1.76,-1.4],[1.61,-1.42],[1.49,-1.26],[1.53,-1.35],[1.38,-1.06],[1.33,-1.14],[1.24,-0.95],[1.11,-0.95],[1.02,-0.94],[1.09,-2.37],[1.24,-2.27],[1.39,-2.32],[1.44,-2.34],[1.66,-2.04],[0.46,-2.2],[0.67,-2.21],[0.75,-2.15],[0.88,-2.09],[0.97,-1.99],[1.3,-2.0],[1.6,-2.0],[1.81,-1.9],[1.94,-1.87],[2.06,-1.83],[0.18,-1.75],[0.33,-1.66],[0.37,-1.75],[0.24,-1.56],
[-0.05,0.02],[0.05,0.04],[0.12,0.03],[0.2,0.01],
[-0.2,-0.06],[-0.1,-0.04],[0.0,-0.07],[0.08,-0.05],[0.15,-0.06],[0.24,-0.04],[0.32,-0.07],
[-0.28,-0.12],[-0.18,-0.14],[-0.08,-0.11],[0.0,-0.13],[0.07,-0.1],[0.13,-0.14],[0.2,-0.11],[0.28,-0.13],[0.38,-0.12],
[-0.3,-0.2],[-0.2,-0.22],[-0.12,-0.19],[-0.04,-0.21],[0.03,-0.19],[0.1,-0.22],[0.16,-0.19],[0.23,-0.21],[0.31,-0.2],[0.42,-0.22],
[-0.25,-0.28],[-0.15,-0.3],[-0.07,-0.27],[0.0,-0.3],[0.06,-0.27],[0.12,-0.3],[0.18,-0.28],[0.25,-0.3],[0.33,-0.27],[0.45,-0.29],
[-0.2,-0.36],[-0.11,-0.38],[-0.03,-0.35],[0.04,-0.38],[0.1,-0.36],[0.16,-0.38],[0.22,-0.35],[0.29,-0.37],[0.38,-0.36],
[-0.15,-0.44],[-0.06,-0.46],[0.02,-0.43],[0.08,-0.46],[0.14,-0.44],[0.2,-0.46],[0.27,-0.43],[0.35,-0.45],[0.45,-0.44],
[-0.1,-0.52],[-0.02,-0.54],[0.06,-0.51],[0.12,-0.54],[0.19,-0.52],[0.26,-0.54],[0.34,-0.51],
[-0.04,-0.6],[0.04,-0.62],[0.11,-0.59],[0.18,-0.62],[0.26,-0.6],
[0.0,-0.68],[0.08,-0.7],[0.16,-0.67],[0.24,-0.7],
[0.05,-0.76],[0.14,-0.78],[0.22,-0.75],
[0.05,-0.15],[0.1,-0.25],[0.15,-0.33],[0.0,-0.4],[0.1,-0.42],[-0.05,-0.25],[0.2,-0.4],[0.08,-0.08],[0.12,-0.5],[0.22,-0.15],
[0.45,-0.98],[0.6,-1.02],[0.78,-0.97],[0.93,-1.04],[1.05,-0.99],
[0.35,-1.1],[0.5,-1.13],[0.62,-1.08],[0.75,-1.12],[0.88,-1.09],[1.0,-1.13],[1.15,-1.1],[1.3,-1.12],
[0.3,-1.22],[0.42,-1.18],[0.55,-1.21],[0.67,-1.17],[0.8,-1.22],[0.92,-1.19],[1.05,-1.23],[1.2,-1.18],[1.35,-1.22],[1.55,-1.2],
[0.32,-1.3],[0.45,-1.33],[0.57,-1.29],[0.7,-1.32],[0.82,-1.28],[0.95,-1.31],[1.08,-1.29],[1.22,-1.33],[1.4,-1.3],[1.7,-1.32],
[0.38,-1.41],[0.5,-1.38],[0.62,-1.42],[0.74,-1.39],[0.86,-1.43],[0.98,-1.4],[1.12,-1.42],[1.28,-1.39],[1.45,-1.43],[1.85,-1.4],
[0.42,-1.5],[0.55,-1.53],[0.67,-1.49],[0.8,-1.52],[0.92,-1.5],[1.05,-1.53],[1.18,-1.49],[1.33,-1.52],[1.52,-1.5],[1.95,-1.55],
[0.45,-1.62],[0.58,-1.59],[0.7,-1.63],[0.83,-1.6],[0.96,-1.62],[1.1,-1.58],[1.25,-1.62],[1.42,-1.6],[1.65,-1.63],
[0.5,-1.7],[0.63,-1.73],[0.76,-1.69],[0.9,-1.72],[1.03,-1.7],[1.17,-1.73],[1.32,-1.7],[1.5,-1.72],[1.75,-1.68],
[0.55,-1.81],[0.7,-1.78],[0.84,-1.82],[0.98,-1.8],[1.12,-1.83],[1.27,-1.79],[1.45,-1.82],[1.62,-1.8],
[0.62,-1.9],[0.78,-1.93],[0.93,-1.89],[1.08,-1.92],[1.22,-1.9],[1.38,-1.93],
[0.7,-2.02],[0.85,-2.05],[1.0,-2.01],[1.15,-2.06],[1.05,-2.12],
[0.6,-0.9],[0.75,-0.88],[0.4,-0.85],[0.9,-0.92],
[-0.15,0.0],[0.0,0.0],[0.1,0.05],[0.16,-0.02],[0.26,-0.02],
[-0.24,-0.09],[-0.14,-0.09],[-0.04,-0.09],[0.04,-0.09],[0.11,-0.08],[0.18,-0.08],[0.26,-0.09],[0.35,-0.09],
[-0.26,-0.16],[-0.16,-0.17],[-0.08,-0.16],[0.0,-0.17],[0.06,-0.15],[0.13,-0.17],[0.19,-0.15],[0.26,-0.17],[0.34,-0.16],[0.45,-0.17],
[-0.27,-0.24],[-0.17,-0.25],[-0.08,-0.24],[-0.01,-0.25],[0.06,-0.23],[0.13,-0.25],[0.2,-0.24],[0.27,-0.25],[0.36,-0.24],[0.48,-0.25],
[-0.22,-0.32],[-0.13,-0.33],[-0.04,-0.32],[0.03,-0.33],[0.09,-0.31],[0.15,-0.33],[0.21,-0.31],[0.28,-0.33],[0.36,-0.32],[0.47,-0.34],
[-0.18,-0.4],[-0.09,-0.41],[-0.01,-0.4],[0.06,-0.41],[0.12,-0.39],[0.18,-0.41],[0.24,-0.4],[0.32,-0.41],[0.42,-0.4],
[-0.12,-0.48],[-0.04,-0.49],[0.04,-0.48],[0.1,-0.49],[0.16,-0.48],[0.23,-0.49],[0.3,-0.48],[0.4,-0.5],
[-0.07,-0.56],[0.01,-0.57],[0.08,-0.56],[0.15,-0.57],[0.22,-0.56],[0.3,-0.57],
[-0.02,-0.64],[0.06,-0.65],[0.13,-0.64],[0.21,-0.65],[0.3,-0.64],
[0.02,-0.72],[0.11,-0.73],[0.19,-0.72],[0.28,-0.74],
[0.1,-0.82],[0.2,-0.84],
[0.4,-1.05],[0.68,-1.05],[0.85,-1.0],[1.1,-1.05],
[0.44,-1.15],[0.56,-1.16],[0.69,-1.14],[0.82,-1.16],[0.95,-1.15],[1.08,-1.16],[1.25,-1.15],
[0.36,-1.26],[0.49,-1.25],[0.61,-1.25],[0.74,-1.26],[0.87,-1.25],[1.0,-1.26],[1.14,-1.25],[1.28,-1.26],
[0.4,-1.35],[0.52,-1.36],[0.64,-1.35],[0.77,-1.36],[0.9,-1.35],[1.03,-1.36],[1.16,-1.36],[1.33,-1.35],
[0.46,-1.45],[0.58,-1.46],[0.7,-1.45],[0.83,-1.46],[0.96,-1.45],[1.08,-1.47],[1.23,-1.45],[1.4,-1.47],
[0.5,-1.56],[0.62,-1.56],[0.75,-1.55],[0.88,-1.57],[1.0,-1.56],[1.14,-1.55],[1.3,-1.57],[1.5,-1.57],
[0.55,-1.66],[0.67,-1.66],[0.8,-1.65],[0.93,-1.67],[1.07,-1.65],[1.22,-1.67],[1.4,-1.66],
[0.62,-1.75],[0.75,-1.76],[0.88,-1.74],[1.02,-1.76],[1.18,-1.75],[1.35,-1.76],
[0.68,-1.86],[0.85,-1.85],[1.0,-1.86],[1.15,-1.86],[1.3,-1.85],
[0.22,-1.05],[0.25,-1.2],[0.2,-1.35],[0.28,-1.45],[0.25,-1.62],[0.3,-1.55],[0.35,-1.7],[0.42,-1.85],[0.5,-1.95],[0.3,-1.0],[0.38,-0.95],[0.5,-0.92]];
const b4Fit = [-0.403, -0.765];
const b4Stats = ['−0.75', '< 2.2e-16'];

// ================= PANEL c DATA =================
// [MDM2 expr, CNOT2 expr, TP53 phenocopy score]
const c1Pts = [
[3.0,6.8,0.4],[3.5,5.5,0.4],[4.0,7.5,0.4],[4.2,4.8,0.4],[4.8,6.2,0.4],[5.2,5.0,0.4],[5.5,7.0,0.4],[3.2,4.3,0.4],[6.0,8.6,0.4],[4.5,8.2,0.4],[3.8,6.0,0.4],[5.8,4.5,0.4],[2.8,5.8,0.4],[6.5,5.5,0.4],[7.0,9.2,0.4],[7.5,11.0,0.4],[8.3,11.2,0.4],[9.0,10.8,0.4],[10.2,9.0,0.4],[11.0,6.4,0.4],[12.5,5.2,0.4],[15.2,5.2,0.4],[3.6,4.0,0.4],[5.0,4.2,0.4],
[2.2,4.2,0.4],[2.6,6.2,0.4],[3.3,4.6,0.4],[4.4,7.0,0.4],[5.6,6.6,0.4],[3.9,5.4,0.4],[5.0,6.8,0.4],[6.3,8.0,0.4],
[2.0,3.8,0.6],[2.6,4.9,0.6],[3.4,6.6,0.6],[4.6,5.7,0.6],[5.6,4.3,0.6],[6.2,6.4,0.6],[7.4,5.0,0.6],[8.5,6.8,0.6],[9.5,7.1,0.6],[10.5,5.5,0.6],[11.8,6.8,0.6],[12.2,10.3,0.6],[11.4,9.7,0.6],[9.6,9.8,0.6],[8.8,11.1,0.6],[14.8,8.4,0.6],[13.6,5.0,0.6],[4.9,7.6,0.6],[6.8,8.8,0.6],[10.1,7.5,0.6],
[2.3,4.5,0.9],[3.1,5.2,0.9],[4.3,6.5,0.9],[6.6,7.2,0.9],[7.8,4.6,0.9],[9.2,5.8,0.9],[10.8,8.8,0.9],[11.8,10.9,0.9],[12.9,6.2,0.9],[13.8,7.0,0.9],[14.3,5.6,0.9],[11.2,10.1,0.9],[10.3,10.6,0.9],[9.8,4.9,0.9],[12.0,7.8,0.9],[5.4,8.1,0.9],
[2.5,5.2,0.1],[3.0,4.1,0.1],[3.3,7.0,0.1],[3.6,5.8,0.1],[3.9,4.5,0.1],[4.1,6.9,0.1],[4.3,5.3,0.1],[4.6,4.0,0.1],[4.7,7.3,0.1],[4.9,6.0,0.1],[5.1,4.7,0.1],[5.3,6.6,0.1],[5.5,5.4,0.1],[5.7,7.8,0.1],[5.9,4.1,0.1],[6.1,6.0,0.1],[6.3,5.0,0.1],[6.4,7.0,0.1],[6.6,4.3,0.1],[6.8,6.3,0.1],[6.9,5.5,0.1],[7.1,7.4,0.1],[7.2,4.8,0.1],[7.4,6.0,0.1],[7.6,5.3,0.1],[7.7,4.1,0.1],[7.9,6.8,0.1],[8.0,5.7,0.1],[8.2,4.5,0.1],[8.3,7.4,0.1],[8.5,5.1,0.1],[8.6,6.2,0.1],[8.8,4.2,0.1],[8.9,7.0,0.1],[9.1,5.5,0.1],[9.2,4.6,0.1],[9.4,6.5,0.1],[9.5,7.6,0.1],[9.7,5.2,0.1],[9.8,4.1,0.1],[10.0,6.1,0.1],[10.2,7.2,0.1],[10.3,4.8,0.1],[10.5,5.8,0.1],[10.7,6.6,0.1],[10.9,4.4,0.1],[11.0,7.4,0.1],[11.2,5.4,0.1],[11.4,6.2,0.1],[11.6,4.7,0.1],[11.8,5.9,0.1],[12.0,7.0,0.1],[12.2,5.1,0.1],[12.4,6.4,0.1],[12.6,4.5,0.1],[12.8,5.6,0.1],[13.0,6.8,0.1],[13.3,5.2,0.1],[13.5,6.1,0.1],[13.8,4.8,0.1],[14.0,5.7,0.1],[14.3,6.6,0.1],[14.6,5.3,0.1],[14.9,6.2,0.1],[15.3,6.8,0.1],[15.6,6.0,0.1],[16.0,6.7,0.1],[17.3,5.7,0.1],[17.7,5.4,0.1],[15.0,5.1,0.1],
[6.9,10.6,0.1],[8.2,9.0,0.1],[7.0,8.0,0.1],[5.0,8.6,0.1],[4.4,8.0,0.1],[3.8,7.8,0.1],[6.0,3.8,0.1],[7.0,3.7,0.1],[8.0,3.9,0.1],[9.0,3.8,0.1],[10.5,4.0,0.1],[11.5,4.3,0.1],[5.2,3.9,0.1],[4.0,3.6,0.1],[12.0,4.0,0.1],[13.0,4.3,0.1],[5.8,9.0,0.1],[2.9,3.9,0.1],[3.4,3.8,0.1],[4.2,4.0,0.1],[2.4,4.8,0.1],
[6.2,5.6,0.1],[7.0,6.6,0.1],[7.8,5.8,0.1],[8.6,5.5,0.1],[9.3,6.0,0.1],[10.0,5.0,0.1],[10.8,5.6,0.1],[11.6,6.6,0.1],[5.5,6.2,0.1],[6.5,6.8,0.1],[7.5,7.0,0.1],[8.4,6.6,0.1],[9.0,6.9,0.1],[9.9,6.7,0.1],[12.5,6.0,0.1],[13.6,5.6,0.1],[6.0,4.8,0.1],[7.3,4.4,0.1],[8.9,4.8,0.1],[10.6,4.6,0.1],[12.2,4.6,0.1],[14.0,5.0,0.1],[4.5,5.0,0.1],[5.0,5.6,0.1],
[28.73,43.72,0.4],[23.43,30.28,0.6],[31.15,25.84,0.6],[15.25,21.93,0.9],[21.93,18.19,0.6],[18.65,17.07,0.9],[18.85,16.62,0.9],[19.18,15.66,0.9],[17.74,15.88,0.9],[13.61,15.95,0.9],[14.86,15.40,0.1],[11.52,14.46,0.9],[24.67,14.46,0.9],[15.05,13.34,0.9],[13.68,13.19,0.1],[19.63,13.45,0.6],[20.29,13.45,0.6],[7.46,13.0,0.4],[13.03,12.07,0.4],[15.12,12.0,0.1],[14.0,12.0,0.9],[37.31,11.14,0.9],[11.65,10.92,0.9],[6.81,10.84,0.1],[19.5,10.32,0.1],[20.49,10.17,0.9],[22.12,10.35,0.9],[37.76,8.30,0.4],[21.2,7.67,0.4],[31.42,6.85,0.9],[15.71,7.04,0.1],[29.65,5.73,0.9],[34.03,5.62,0.4],[36.26,5.8,0.6],[26.5,5.54,0.9],[26.05,5.54,0.9],[23.56,5.32,0.9],[27.55,5.24,0.4],[20.29,5.28,0.9],[20.75,5.02,0.9],[18.72,4.46,0.6],[22.12,4.12,0.1],[44.44,5.32,0.9],[57.86,5.92,0.6],[52.82,4.2,0.4],[15.12,5.47,0.4],[17.4,5.7,0.1],[16.6,6.0,0.4],[14.78,8.38,0.6],[12.15,9.7,0.6],[15.6,6.7,0.1],[15.2,5.0,0.1],[12.15,5.0,0.6],[16.8,5.5,0.1]];
const c1CutX = 10.34;
const c1CutY = 7.38;

const c2Pts = [
[-0.6,-0.6,0.9],[-0.57,-0.58,0.1],[-0.53,-0.52,0.6],[-0.5,-0.5,0.4],[-0.47,-0.46,0.9],[-0.44,-0.45,0.4],[-0.41,-0.4,0.6],[-0.38,-0.38,0.4],[-0.35,-0.35,0.1],[-0.32,-0.31,0.1],[-0.29,-0.29,0.6],[-0.26,-0.26,0.4],[-0.23,-0.23,0.6],[-0.2,-0.2,0.9],[-0.17,-0.17,0.6],[-0.14,-0.13,0.4],[-0.11,-0.11,0.1],[-0.08,-0.08,0.1],[-0.05,-0.05,0.4],[-0.02,-0.02,0.6],[0.01,0.02,0.4],[0.04,0.04,0.9],[0.07,0.08,0.6],[0.1,0.1,0.4],[0.13,0.13,0.6],[0.16,0.16,0.1],[0.19,0.2,0.4],[0.22,0.22,0.6],[0.25,0.25,0.9],[0.28,0.28,0.4],[0.31,0.31,0.4],[0.34,0.34,0.6],[0.37,0.38,0.1],[0.4,0.4,0.9],[0.43,0.43,0.6],[0.46,0.46,0.6],[0.49,0.5,0.9],[0.52,0.52,0.4],[0.55,0.55,0.1],[0.58,0.58,0.6],[0.61,0.61,0.9],[0.64,0.65,0.6],[0.67,0.67,0.1],[0.7,0.7,0.1],[0.73,0.74,0.9],[0.76,0.76,0.4],[0.79,0.79,0.1],[0.82,0.82,0.1],[0.85,0.86,0.6],[0.88,0.88,0.6],[0.91,0.91,0.6],[0.94,0.94,0.9],[0.97,0.98,0.9],[1.0,1.0,0.9],[1.04,1.03,0.4],[1.08,1.08,0.4],[1.12,1.12,0.4],[1.16,1.16,0.9],[1.2,1.2,0.9],[1.23,1.24,0.1],[1.27,1.28,0.1],[1.33,1.33,0.6],[1.4,1.42,0.9],[1.45,1.46,0.1],
[-0.45,-0.47,0.1],[-0.3,-0.33,0.4],[-0.1,-0.12,0.9],[0.05,0.03,0.1],[0.2,0.18,0.6],[0.35,0.33,0.4],[0.5,0.48,0.6],[0.65,0.62,0.9],[0.8,0.78,0.6],[0.95,0.93,0.4],[1.1,1.09,0.1],[-0.2,-0.22,0.4],[0.12,0.11,0.1],[0.6,0.57,0.1],[0.42,0.44,0.4],[0.9,0.92,0.1],[-0.55,-0.56,0.6],
[-0.58,-0.62,0.4],[-0.48,-0.5,0.9],[-0.4,-0.43,0.1],[-0.33,-0.36,0.6],[-0.25,-0.28,0.9],[-0.16,-0.19,0.1],[-0.07,-0.1,0.6],[0.02,-0.01,0.1],[0.09,0.06,0.4],[0.17,0.14,0.9],[0.26,0.23,0.1],[0.33,0.3,0.6],[0.41,0.38,0.4],[0.48,0.45,0.1],[0.56,0.53,0.6],[0.63,0.6,0.4],[0.71,0.68,0.6],[0.78,0.75,0.9],[0.86,0.83,0.1],[0.93,0.9,0.9],[1.01,0.98,0.6],[1.09,1.06,0.4],[1.17,1.14,0.1],[1.25,1.22,0.9],[1.31,1.3,0.6],[1.38,1.36,0.4],
[-0.946,-0.95,0.1],[-0.723,-0.716,0.1],[2.945,3.658,0.1],[3.39,3.658,0.6],[3.627,3.64,0.9],[3.63,3.66,0.6],[3.003,3.02,0.4],[2.977,2.98,0.6],[2.807,2.817,0.4],[2.62,2.635,0.4],[2.562,2.567,0.9],[2.297,2.324,0.6],[2.31,2.33,0.9],[2.51,2.296,0.6],[1.967,1.952,0.6],[1.95,1.955,0.6],[1.834,1.726,0.6],[1.648,1.657,0.6],[1.408,1.819,0.4],[0.792,2.227,0.4],[-0.059,1.738,0.1],[0.494,1.124,0.1],[2.79,1.811,0.1],[2.52,1.42,0.1],[3.216,1.091,0.6],[1.871,0.97,0.4],[0.447,0.828,0.4],[0.5,0.667,0.4],[1.116,0.626,0.9],[1.196,0.565,0.1],[1.21,0.58,0.9],[-0.574,0.505,0.6],[-0.005,0.586,0.6],[0.0,0.5,0.9],[-0.112,0.27,0.9],[-0.904,0.008,0.1],[-0.76,-0.012,0.1],[-0.537,0.048,0.1],[-0.319,0.028,0.9],[-0.17,-0.028,0.6],[-0.11,0.02,0.1],[0.175,0.17,0.1],[0.23,0.09,0.1],[0.383,0.028,0.4],[0.42,0.04,0.4],[0.367,-0.073,0.9],[0.49,-0.12,0.1],[0.48,-0.17,0.9],[0.65,0.0,0.1],[0.7,0.0,0.1],[0.75,0.0,0.1],[0.81,0.0,0.1],[0.914,0.012,0.1],[0.98,0.02,0.4],[1.02,0.03,0.9],[1.04,0.02,0.9],[1.17,-0.008,0.9],[1.313,-0.053,0.9],[1.712,-0.008,0.4],[2.243,0.073,0.4],[2.227,-0.06,0.9],[2.456,-0.04,0.9],[2.86,0.008,0.1],[2.52,-0.315,0.1],[0.175,-0.275,0.6],[0.106,-0.457,0.4],
[3.636,2.95,0.9],[3.636,2.67,0.9],[3.636,2.6,0.9],[3.636,2.54,0.9],[3.636,2.13,0.9],[3.636,2.03,0.9],[3.636,1.92,0.1],[3.636,1.9,0.9],[3.636,1.95,0.9],[3.636,0.75,0.9],[3.636,0.72,0.4],[3.636,0.42,0.4],[3.636,0.08,0.4],[3.636,0.03,0.9],[3.636,0.0,0.6],[3.636,-0.02,0.9],[3.636,-0.05,0.9],[3.636,-0.08,0.9],[3.636,-0.11,0.9],[3.636,-0.14,0.4],[3.636,-0.23,0.9],[3.636,-0.55,0.1],[3.636,-0.63,0.6],[3.636,-0.75,0.6],[3.636,-0.81,0.1],[3.636,-0.85,0.4]];
const c2CutX = 1.797;
const c2CutY = 0.905;

const phenoBreaks = [0.25, 0.5, 0.75];
const phenoLegendLabels = ['0.75', '0.50', '0.25'];

// ================= STYLE =================
const PHENO_COLORS = ['#0791DE', '#8FCAE8', '#FFA254', '#FF6537'];

function phenoColor(s: number) {
  const i = d3.bisectRight(phenoBreaks, s);
  return PHENO_COLORS[i];
}

// ================= PANEL a =================
function PanelA() {
  const x = d3.scaleLinear().domain([59, 77]).range([254.8, 1642]);
  const yC = d3.scaleLinear().domain([0.05, 0.25]).range([241.5, 80]);
  const yS = d3.scaleLinear().domain([0, -0.75]).range([375.5, 738.5]);
  const col = d3.scaleLinear<string>().domain(freqDomain).range(['#eceff8', '#0a4f8d']).interpolate(d3.interpolateLab).clamp(true);
  const axX0 = 182, axX1 = 1748, axBottom = 745, axTop = 280;
  const base = yC(cnaBaseline);
  const lblLayout: Record<string, { dx: number; dy: number; a: string; fs: number }> = {
    TBK1: { dx: 8, dy: -1, a: 'start', fs: 17 },
    DYRK2: { dx: -7, dy: 16, a: 'end', fs: 17 },
    MDM1: { dx: 5, dy: -8, a: 'middle', fs: 17 },
    RAP1B: { dx: -6, dy: 17, a: 'end', fs: 17 },
    CPM: { dx: 7, dy: 1, a: 'start', fs: 17 },
    MDM2: { dx: -12, dy: 8, a: 'end', fs: 28 },
    CNOT2: { dx: -6, dy: 16, a: 'end', fs: 17 },
    KCNMB4: { dx: 7, dy: -6, a: 'start', fs: 17 },
  };
  const lg = d3.scaleLinear().domain([0.2, 0.6]).range([1561, 1664]);
  const gradStops = d3.range(0, 11).map(i => freqDomain[0] + (freqDomain[1] - freqDomain[0]) * i / 10);
  return (
    <g>
      <text x={16} y={46} fontSize={52}>a</text>
      {/* CNA panel */}
      <line x1={axX0} x2={axX0} y1={74} y2={base} stroke="#999" strokeWidth={1.5} />
      {cnaTicks.map((t, i) => (
        <g key={'ct' + i}>
          <line x1={axX0 - 6} x2={axX0} y1={yC(t)} y2={yC(t)} stroke="#999" strokeWidth={1.5} />
          <text x={169} y={yC(t) + 10} fontSize={29} textAnchor="end" fill="#222">{cnaTickLabels[i]}</text>
        </g>
      ))}
      <text transform={`translate(47,157) rotate(-90)`} fontSize={31} textAnchor="middle" fill="#111">CNA</text>
      <line x1={axX0} x2={x(78.1)} y1={base} y2={base} stroke="#b5b5b5" strokeWidth={3} strokeDasharray="14,2" />
      {cnaBarPos.map((p, i) => (
        <g key={'bar' + i}>
          <rect x={x(p) - 1.6} width={3.2} y={yC(cnaBarTotal[i])} height={base - yC(cnaBarTotal[i])} fill="#1d58d8" />
          <rect x={x(p) - 1.6} width={3.2} y={yC(cnaBarAmp[i])} height={base - yC(cnaBarAmp[i])} fill="#e5336a" />
        </g>
      ))}
      {/* codependency panel */}
      <line x1={axX0} x2={axX0} y1={axTop} y2={axBottom} stroke="#222" strokeWidth={2} />
      <line x1={axX0 - 1} x2={axX1} y1={axBottom} y2={axBottom} stroke="#222" strokeWidth={2.5} />
      {codepTicks.map((t, i) => (
        <g key={'st' + i}>
          <line x1={axX0 - 6} x2={axX0} y1={yS(t)} y2={yS(t)} stroke="#222" strokeWidth={1.5} />
          <text x={167} y={yS(t) + 11} fontSize={31} textAnchor="end" fill="#111">{codepTickLabels[i]}</text>
        </g>
      ))}
      {chrTickMb.map((t, i) => (
        <g key={'xt' + i}>
          <line x1={x(t)} x2={x(t)} y1={axBottom} y2={axBottom + 6} stroke="#222" strokeWidth={1.5} />
          <text x={x(t) + 13} y={779} fontSize={31} textAnchor="middle" fill="#111">{chrTickLabels[i]}</text>
        </g>
      ))}
      <text x={977} y={824} fontSize={31} textAnchor="middle" fill="#111">chr 12</text>
      <text transform={`translate(31,487) rotate(-90)`} fontSize={34} textAnchor="middle" fill="#111">CRISPR/RNAsi</text>
      <text transform={`translate(61,492) rotate(-90)`} fontSize={34} textAnchor="middle" fill="#111">codependecy score</text>
      {codepPos.map((p, i) => (
        <circle key={'cp' + i} cx={x(p)} cy={yS(codepScore[i])} r={6.2} fill={col(codepFreq[i])} />
      ))}
      {codepLabelGene.map((g, k) => {
        const i = codepLabelIdx[k];
        const L = lblLayout[g];
        return (
          <text key={'lb' + g} x={x(codepPos[i]) + L.dx} y={yS(codepScore[i]) + L.dy} fontSize={L.fs} textAnchor={L.a} fill={g === 'MDM2' ? '#2b78b4' : col(codepFreq[i])}>{g}</text>
        );
      })}
      {/* legend */}
      <defs>
        <linearGradient id="freqGrad" x1="0" x2="1" y1="0" y2="0">
          {gradStops.map((v, i) => <stop key={i} offset={`${i * 10}%`} stopColor={col(v)} />)}
        </linearGradient>
      </defs>
      <text x={1545} y={614} fontSize={27} fill="#111">Frequency</text>
      <text x={1545} y={644} fontSize={27} fill="#111">gene-MDM2_amp</text>
      <rect x={lg(freqDomain[0])} y={661} width={lg(freqDomain[1]) - lg(freqDomain[0])} height={28} fill="url(#freqGrad)" />
      {freqLegendTicks.map((t, i) => (
        <g key={'lt' + i}>
          <line x1={lg(t)} x2={lg(t)} y1={661} y2={667} stroke="#fff" strokeWidth={1.5} />
          <line x1={lg(t)} x2={lg(t)} y1={683} y2={689} stroke="#fff" strokeWidth={1.5} />
          <text x={lg(t)} y={717} fontSize={27} textAnchor="middle" fill="#111">{t.toFixed(1)}</text>
        </g>
      ))}
    </g>
  );
}

// ================= PANEL b =================
type BCfg = {
  id: string; frame: number[]; xCal: number[]; yCal: number[];
  xTicks: number[]; xTickLabels: string[]; xMinor: number[];
  yTicks: number[]; yTickLabels: string[]; yMinor: number[];
  pts: number[][]; fit: number[]; stats: string[];
  color: string; lineColor: string; yTitle: string;
  xTitlePos: number[]; yTitlePos: number[]; rPos: number[]; pPos: number[]; xLabelY: number;
};

function ScatterB({ c }: { c: BCfg }) {
  const [fx0, fy0, fx1, fy1] = c.frame;
  const xs = d3.scaleLinear().domain([c.xCal[0], c.xCal[2]]).range([c.xCal[1], c.xCal[3]]);
  const ys = d3.scaleLinear().domain([c.yCal[0], c.yCal[2]]).range([c.yCal[1], c.yCal[3]]);
  const [a, b] = c.fit;
  const n = c.pts.length;
  const N = bCellLines;
  const mx = d3.mean(c.pts, p => p[0]) as number;
  const sxx = d3.sum(c.pts, p => (p[0] - mx) ** 2) * N / n;
  const s = Math.sqrt(d3.sum(c.pts, p => (p[1] - (a + b * p[0])) ** 2) / (n - 2));
  const xmin = d3.min(c.pts, p => p[0]) as number;
  const xmax = d3.max(c.pts, p => p[0]) as number;
  const grid = d3.range(0, 41).map(i => xmin + (xmax - xmin) * i / 40);
  const se = (v: number) => 1.96 * s * Math.sqrt(1 / N + (v - mx) ** 2 / sxx);
  const band = d3.area<number>().x(v => xs(v)).y0(v => ys(a + b * v - se(v))).y1(v => ys(a + b * v + se(v)))(grid) || '';
  const clipId = 'clip' + c.id;
  return (
    <g>
      <defs>
        <clipPath id={clipId}><rect x={fx0} y={fy0} width={fx1 - fx0} height={fy1 - fy0} /></clipPath>
      </defs>
      <rect x={fx0} y={fy0} width={fx1 - fx0} height={fy1 - fy0} fill="#fff" />
      <g clipPath={`url(#${clipId})`}>
        {c.xMinor.map((t, i) => <line key={'xm' + i} x1={xs(t)} x2={xs(t)} y1={fy0} y2={fy1} stroke="#efefef" strokeWidth={1.2} />)}
        {c.yMinor.map((t, i) => <line key={'ym' + i} x1={fx0} x2={fx1} y1={ys(t)} y2={ys(t)} stroke="#efefef" strokeWidth={1.2} />)}
        {c.xTicks.map((t, i) => <line key={'xg' + i} x1={xs(t)} x2={xs(t)} y1={fy0} y2={fy1} stroke="#dcdcdc" strokeWidth={1.4} />)}
        {c.yTicks.map((t, i) => <line key={'yg' + i} x1={fx0} x2={fx1} y1={ys(t)} y2={ys(t)} stroke="#dcdcdc" strokeWidth={1.4} />)}
        {c.pts.map((p, i) => <circle key={'p' + i} cx={xs(p[0])} cy={ys(p[1])} r={5.4} fill={c.color} fillOpacity={0.62} />)}
        <path d={band} fill="#999" fillOpacity={0.2} />
        <line x1={xs(xmin)} y1={ys(a + b * xmin)} x2={xs(xmax)} y2={ys(a + b * xmax)} stroke={c.lineColor} strokeWidth={4} />
      </g>
      <rect x={fx0} y={fy0} width={fx1 - fx0} height={fy1 - fy0} fill="none" stroke="#555" strokeWidth={2} />
      {c.xTicks.map((t, i) => (
        <g key={'xt' + i}>
          <line x1={xs(t)} x2={xs(t)} y1={fy1} y2={fy1 + 5} stroke="#444" strokeWidth={1.5} />
          <text x={xs(t)} y={c.xLabelY} fontSize={33} textAnchor="middle" fill="#111">{c.xTickLabels[i]}</text>
        </g>
      ))}
      {c.yTicks.map((t, i) => (
        <g key={'yt' + i}>
          <line x1={fx0 - 5} x2={fx0} y1={ys(t)} y2={ys(t)} stroke="#444" strokeWidth={1.5} />
          <text x={fx0 - 6} y={ys(t) + 12} fontSize={33} textAnchor="end" fill="#111">{c.yTickLabels[i]}</text>
        </g>
      ))}
      <text x={c.xTitlePos[0]} y={c.xTitlePos[1]} fontSize={36} textAnchor="middle" fill="#111">TP53</text>
      <text transform={`translate(${c.yTitlePos[0]},${c.yTitlePos[1]}) rotate(-90)`} fontSize={36} textAnchor="middle" fill="#111">{c.yTitle}</text>
      <text x={c.rPos[0]} y={c.rPos[1]} fontSize={24} fill="#111"><tspan fontStyle="italic">R</tspan>{' = ' + c.stats[0]}</text>
      <text x={c.pPos[0]} y={c.pPos[1]} fontSize={24} fill="#111"><tspan fontStyle="italic">p</tspan>{' ' + c.stats[1]}</text>
    </g>
  );
}

// ================= PANEL c =================
type CCfg = {
  id: string; area: number[]; xCal: number[]; yCal: number[];
  xTicks: number[]; xTickLabels: string[]; xMinor: number[];
  yTicks: number[]; yTickLabels: string[]; yMinor: number[];
  pts: number[][]; cutX: number; cutY: number;
  xTitle: string; yTitle: string; xTitlePos: number[]; yTitlePos: number[];
  xLabelY: number; yLabelX: number;
};

function ScatterC({ c }: { c: CCfg }) {
  const [ax0, ay0, ax1, ay1] = c.area;
  const xs = d3.scaleLinear().domain([c.xCal[0], c.xCal[2]]).range([c.xCal[1], c.xCal[3]]);
  const ys = d3.scaleLinear().domain([c.yCal[0], c.yCal[2]]).range([c.yCal[1], c.yCal[3]]);
  return (
    <g>
      {c.xMinor.map((t, i) => <line key={'xm' + i} x1={xs(t)} x2={xs(t)} y1={ay0} y2={ay1} stroke="#f2f2f2" strokeWidth={1.3} />)}
      {c.yMinor.map((t, i) => <line key={'ym' + i} x1={ax0} x2={ax1} y1={ys(t)} y2={ys(t)} stroke="#f2f2f2" strokeWidth={1.3} />)}
      {c.xTicks.map((t, i) => <line key={'xg' + i} x1={xs(t)} x2={xs(t)} y1={ay0} y2={ay1} stroke="#e8e8e8" strokeWidth={2} />)}
      {c.yTicks.map((t, i) => <line key={'yg' + i} x1={ax0} x2={ax1} y1={ys(t)} y2={ys(t)} stroke="#e8e8e8" strokeWidth={2} />)}
      <line x1={xs(c.cutX)} x2={xs(c.cutX)} y1={ay0} y2={ay1} stroke="#7a7a7a" strokeWidth={2.2} strokeDasharray="11,6" />
      <line x1={ax0} x2={ax1} y1={ys(c.cutY)} y2={ys(c.cutY)} stroke="#7a7a7a" strokeWidth={2.2} strokeDasharray="11,6" />
      {c.pts.map((p, i) => <circle key={'p' + i} cx={xs(p[0])} cy={ys(p[1])} r={5.4} fill={phenoColor(p[2])} />)}
      {c.xTicks.map((t, i) => (
        <text key={'xt' + i} x={xs(t)} y={c.xLabelY} fontSize={32} textAnchor="middle" fill="#111">{c.xTickLabels[i]}</text>
      ))}
      {c.yTicks.map((t, i) => (
        <text key={'yt' + i} x={c.yLabelX} y={ys(t) + 11} fontSize={32} textAnchor="end" fill="#111">{c.yTickLabels[i]}</text>
      ))}
      <text x={c.xTitlePos[0]} y={c.xTitlePos[1]} fontSize={34} textAnchor="middle" fill="#111">{c.xTitle}</text>
      <text transform={`translate(${c.yTitlePos[0]},${c.yTitlePos[1]}) rotate(-90)`} fontSize={34} textAnchor="middle" fill="#111">{c.yTitle}</text>
    </g>
  );
}

function PhenoLegend() {
  const ly = d3.scaleLinear().domain([1, 0]).range([1391, 1611]);
  const bins = [0, ...phenoBreaks, 1];
  return (
    <g>
      <text x={1789} y={1305} fontSize={31} fill="#111">TP53</text>
      <text x={1789} y={1339} fontSize={31} fill="#111">Phenocopy</text>
      <text x={1789} y={1372} fontSize={31} fill="#111">score</text>
      {PHENO_COLORS.map((cl, i) => (
        <rect key={i} x={1794} width={43} y={ly(bins[i + 1])} height={ly(bins[i]) - ly(bins[i + 1])} fill={cl} />
      ))}
      {[0.75, 0.5, 0.25].map((v, i) => (
        <text key={'pl' + i} x={1845} y={ly(v) + 10} fontSize={29} fill="#111">{phenoLegendLabels[i]}</text>
      ))}
    </g>
  );
}

export default function App() {
  const bCfgs: BCfg[] = [
    {
      id: 'b1', frame: [155.7, 927, 538.8, 1369.8], xCal: [-1, 197.1, 1, 509.3], yCal: [0, 1021.9, -1, 1285.6],
      xTicks: [-1, -0.5, 0, 0.5, 1], xTickLabels: ['-1.0', '-0.5', '0.0', '0.5', '1.0'], xMinor: [-0.75, -0.25, 0.25, 0.75],
      yTicks: [0, -0.5, -1], yTickLabels: ['0.0', '-0.5', '-1.0'], yMinor: [0.25, -0.25, -0.75, -1.25],
      pts: b1Pts, fit: b1Fit, stats: b1Stats, color: '#FF9819', lineColor: '#F7870A', yTitle: 'CNOT2',
      xTitlePos: [339, 1456], yTitlePos: [59, 1153], rPos: [181, 1269], pPos: [173, 1312], xLabelY: 1409,
    },
    {
      id: 'b2', frame: [659.4, 927, 1073.3, 1369], xCal: [-1, 703.4, 1, 1040.6], yCal: [0, 1048.4, -1, 1208.5],
      xTicks: [-1, -0.5, 0, 0.5, 1], xTickLabels: ['-1.0', '-0.5', '0.0', '0.5', '1.0'], xMinor: [-0.75, -0.25, 0.25, 0.75],
      yTicks: [0, -1, -2], yTickLabels: ['0', '-1', '-2'], yMinor: [0.5, -0.5, -1.5],
      pts: b2Pts, fit: b2Fit, stats: b2Stats, color: '#EE7810', lineColor: '#E66E08', yTitle: 'MDM2',
      xTitlePos: [858, 1458], yTitlePos: [600, 1153], rPos: [686, 1274], pPos: [678, 1317], xLabelY: 1409,
    },
    {
      id: 'b3', frame: [155.7, 1493.4, 538.8, 1936.8], xCal: [0, 224.5, 4, 536.6], yCal: [0, 1559, -1, 1815.9],
      xTicks: [0, 1, 2, 3, 4], xTickLabels: ['0', '1', '2', '3', '4'], xMinor: [-0.5, 0.5, 1.5, 2.5, 3.5],
      yTicks: [0, -0.5, -1], yTickLabels: ['0.0', '-0.5', '-1.0'], yMinor: [-0.25, -0.75, -1.25],
      pts: b3Pts, fit: b3Fit, stats: b3Stats, color: '#1AA0F6', lineColor: '#1894EC', yTitle: 'CNOT2',
      xTitlePos: [327, 2014], yTitlePos: [59, 1712], rPos: [181, 1875], pPos: [173, 1919], xLabelY: 1973,
    },
    {
      id: 'b4', frame: [659.4, 1493.4, 1073.3, 1936.8], xCal: [0, 733.8, 4, 1071.2], yCal: [0, 1530.2, -3, 1863.8],
      xTicks: [0, 1, 2, 3, 4], xTickLabels: ['0', '1', '2', '3', '4'], xMinor: [-0.5, 0.5, 1.5, 2.5, 3.5],
      yTicks: [0, -1, -2, -3], yTickLabels: ['0', '-1', '-2', '-3'], yMinor: [-0.5, -1.5, -2.5, -3.5],
      pts: b4Pts, fit: b4Fit, stats: b4Stats, color: '#0E77D0', lineColor: '#0B6ECA', yTitle: 'MDM2',
      xTitlePos: [848, 2017], yTitlePos: [600, 1710], rPos: [686, 1794], pPos: [678, 1838], xLabelY: 1973,
    },
  ];
  const cCfgs: CCfg[] = [
    {
      id: 'c1', area: [1261.4, 905, 1766, 1379.6], xCal: [0, 1266.8, 60, 1760.4], yCal: [10, 1291.7, 40, 965.3],
      xTicks: [0, 20, 40, 60], xTickLabels: ['0', '20', '40', '60'], xMinor: [10, 30, 50],
      yTicks: [10, 20, 30, 40], yTickLabels: ['10', '20', '30', '40'], yMinor: [5, 15, 25, 35, 45],
      pts: c1Pts, cutX: c1CutX, cutY: c1CutY, xTitle: 'MDM2 gene expr.', yTitle: 'CNOT2 gene expr.',
      xTitlePos: [1519, 1455], yTitlePos: [1200, 1112], xLabelY: 1411, yLabelX: 1248,
    },
    {
      id: 'c2', area: [1253, 1494, 1766, 1972], xCal: [0, 1373.3, 3, 1676.7], yCal: [0, 1862.8, 3, 1577.5],
      xTicks: [-1, 0, 1, 2, 3], xTickLabels: ['-1', '0', '1', '2', '3'], xMinor: [-0.5, 0.5, 1.5, 2.5, 3.5],
      yTicks: [-1, 0, 1, 2, 3], yTickLabels: ['-1', '0', '1', '2', '3'], yMinor: [-0.5, 0.5, 1.5, 2.5, 3.5],
      pts: c2Pts, cutX: c2CutX, cutY: c2CutY, xTitle: 'MDM2 CNA', yTitle: 'CNOT2 CNA',
      xTitlePos: [1518, 2043], yTitlePos: [1200, 1742], xLabelY: 2006, yLabelX: 1244,
    },
  ];
  return (
    <svg width={1944} height={2052} viewBox="0 0 1944 2052" style={{ position: 'absolute', left: 0, top: 0, background: '#fff' }} fontFamily={FONT}>
      <rect x={0} y={0} width={1944} height={2052} fill="#fff" />
      <PanelA />
      <text x={14} y={889} fontSize={58}>b</text>
      {bCfgs.map(c => <ScatterB key={c.id} c={c} />)}
      <text x={1118} y={892} fontSize={58}>c</text>
      {cCfgs.map(c => <ScatterC key={c.id} c={c} />)}
      <PhenoLegend />
    </svg>
  );
}
